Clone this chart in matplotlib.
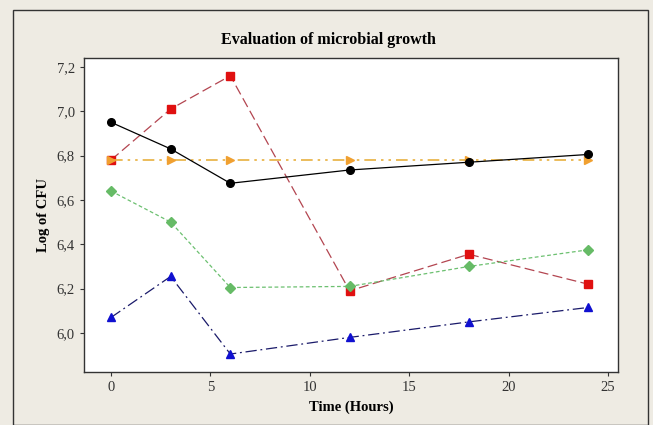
import matplotlib
matplotlib.use("Agg")
import matplotlib.pyplot as plt
from matplotlib.patches import Rectangle
from matplotlib.ticker import FuncFormatter

time_h = [0, 3, 6, 12, 18, 24]
black_series = [6.95, 6.83, 6.675, 6.735, 6.77, 6.805]
red_series = [6.78, 7.01, 7.16, 6.19, 6.355, 6.22]
orange_series = [6.78, 6.78, 6.78, 6.78, 6.78, 6.78]
green_series = [6.64, 6.50, 6.205, 6.21, 6.30, 6.375]
blue_series = [6.07, 6.255, 5.905, 5.98, 6.05, 6.115]
x_ticks = [0, 5, 10, 15, 20, 25]
y_ticks = [6.0, 6.2, 6.4, 6.6, 6.8, 7.0, 7.2]

bg = "#EEEBE3"
plt.rcParams['font.family'] = ['Liberation Serif', 'DejaVu Serif']

fig = plt.figure(figsize=(6.53, 4.25), dpi=100, facecolor=bg)
W, H = 653, 425
fig.patches.append(Rectangle((13 / W, 0), (648 - 13) / W, 1 - 10 / H,
                             transform=fig.transFigure, fill=False,
                             edgecolor="#333333", linewidth=1.0))
ax = fig.add_axes([84 / W, 1 - 372 / H, (618 - 84) / W, (372 - 58) / H])
ax.set_facecolor("white")

ax.plot(time_h, red_series, color="#B34550", linestyle=(0, (8, 3.5)), linewidth=0.9,
        marker="s", markersize=5.5, markerfacecolor="#E01010", markeredgecolor="#E01010", zorder=3)
ax.plot(time_h, green_series, color="#6CC070", linestyle=(0, (3, 2)), linewidth=0.9,
        marker="D", markersize=5, markerfacecolor="#66BB66", markeredgecolor="#66BB66", zorder=3)
ax.plot(time_h, blue_series, color="#1A1A6A", linestyle=(0, (9, 3, 1.5, 3)), linewidth=0.9,
        marker="^", markersize=6, markerfacecolor="#1010D0", markeredgecolor="#1010D0", zorder=3)
ax.plot(time_h, orange_series, color="#E8B040", linestyle=(0, (7, 3, 1.5, 3, 1.5, 3)), linewidth=1.2,
        marker=">", markersize=6, markerfacecolor="#F0A030", markeredgecolor="#F0A030", zorder=3)
ax.plot(time_h, black_series, color="black", linestyle="-", linewidth=0.9,
        marker="o", markersize=5.5, markerfacecolor="black", markeredgecolor="black", zorder=4)

ax.set_xlim(-1.36, 25.5)
ax.set_ylim(5.824, 7.24)
ax.set_xticks(x_ticks)
ax.set_yticks(y_ticks)
ax.yaxis.set_major_formatter(FuncFormatter(lambda v, p: f"{v:.1f}".replace(".", ",")))
ax.tick_params(direction="out", length=3, width=0.8, labelsize=10.5, colors="#333333")
for s in ax.spines.values():
    s.set_color("#333333")
    s.set_linewidth(1.0)

fig.text(328 / W, 1 - 40 / H, "Evaluation of microbial growth", fontsize=11.5,
         fontweight="bold", ha="center", va="center")
ax.set_xlabel("Time (Hours)", fontsize=10.5, fontweight="bold", labelpad=5)
ax.set_ylabel("Log of CFU", fontsize=10.5, fontweight="bold", labelpad=5)

fig.savefig("out.png", dpi=100, facecolor=bg)
